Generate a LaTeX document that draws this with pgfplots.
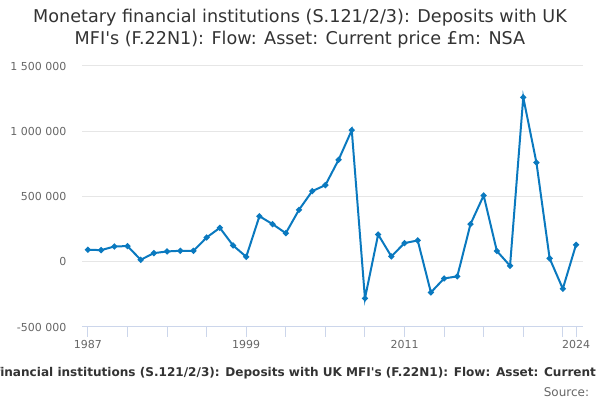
\documentclass[border=0pt]{standalone}
\usepackage{pgfplots}
\pgfplotsset{compat=1.18}
\usepackage{fontspec}
\setmainfont{DejaVu Sans}
\definecolor{linec}{HTML}{0A79BF}
\definecolor{gridc}{HTML}{E6E6E6}
\definecolor{axc}{HTML}{CCD6EB}
\definecolor{labc}{HTML}{666666}
\definecolor{titc}{HTML}{333333}
\begin{document}
\begin{tikzpicture}
\path[use as bounding box] (0,0) rectangle (450pt,300pt);
\clip (0,0) rectangle (450pt,300pt);
\begin{axis}[
  at={(61.5pt,54.75pt)}, anchor=south west,
  scale only axis, width=375.75pt, height=195.75pt,
  xmin=1986.55, xmax=2024.53, ymin=-500000, ymax=1500000,
  axis lines*=left,
  x axis line style={color=axc, line width=0.75pt},
  y axis line style={draw=none},
  scaled y ticks=false,
  ytick={-500000,0,500000,1000000,1500000},
  yticklabels={-500 000,0,500 000,1 000 000,1 500 000},
  xtick={1987,1990,1993,1996,1999,2002,2005,2008,2011,2014,2017,2020,2023,2024},
  xticklabels={1987,,,,1999,,,,2011,,,,,2024},
  ymajorgrids, grid style={color=gridc, line width=0.75pt},
  ytick style={draw=none},
  xtick style={color=axc, line width=0.75pt},
  tick align=outside, major tick length=7.5pt,
  ticklabel style={font=\fontsize{8.25}{10}\selectfont, color=labc},
  yticklabel style={anchor=east, inner sep=0pt, xshift=-4pt},
  xticklabel style={anchor=north, inner sep=0pt, yshift=-2pt},
  clip=false,
]
\addplot[color=linec, line width=1.5pt, mark=*, mark size=1.4pt, mark options={fill=linec}] coordinates {
(1987,92000) (1988,89000) (1989,117000) (1990,120000) (1991,15000) (1992,66000)
(1993,79000) (1994,84000) (1995,84000) (1996,186000) (1997,260000) (1998,125000)
(1999,38000) (2000,349000) (2001,288000) (2002,219000) (2003,398000) (2004,541000)
(2005,587000) (2006,781000) (2007,1008000) (2008,-281000) (2009,209000) (2010,41000)
(2011,143000) (2012,163000) (2013,-235000) (2014,-128000) (2015,-112000) (2016,288000)
(2017,508000) (2018,82000) (2019,-31000) (2020,1260000) (2021,760000) (2022,26000)
(2023,-207000) (2024,130000)
};
\end{axis}
\node[color=titc, font=\fontsize{13.2}{15}\selectfont] at (225pt,286.5pt) {Monetary financial institutions (S.121/2/3): Deposits with UK};
\node[color=titc, font=\fontsize{13.2}{15}\selectfont] at (225pt,270pt) {MFI\textquotesingle s (F.22N1): Flow: Asset: Current price £m: NSA};
\node[color=titc, font=\bfseries\fontsize{9.05}{11}\selectfont, anchor=base west, inner sep=0pt] at (0pt,17.5pt) {\llap{Monetary f}inancial institutions (S.121/2/3): Deposits with UK MFI\textquotesingle s (F.22N1): Flow: Asset: Current price £m: NSA};
\node[color=labc, font=\fontsize{9}{11}\selectfont, anchor=east, inner sep=0pt] at (442pt,6pt) {Source:};
\end{tikzpicture}
\end{document}
